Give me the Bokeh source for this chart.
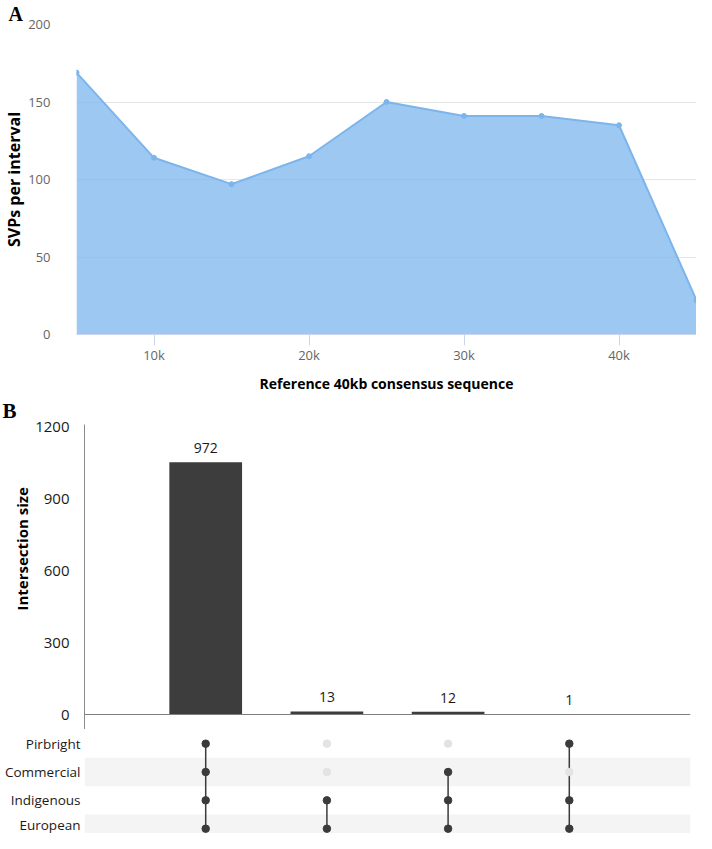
from bokeh.plotting import figure
from bokeh.models import Range1d, FixedTicker, ColumnDataSource, Span, Title
from bokeh.layouts import column
from bokeh.embed import file_html
from bokeh.resources import INLINE
from bokeh.core.properties import value

# ---------------- Panel A data ----------------
positions = [5000, 10000, 15000, 20000, 25000, 30000, 35000, 40000, 45000]
svps_per_interval = [169, 114, 97, 115, 150, 141, 141, 135, 22]
a_x_ticks = [10000, 20000, 30000, 40000]
a_x_tick_labels = ["10k", "20k", "30k", "40k"]
a_y_ticks = [0, 50, 100, 150, 200]

# ---------------- Panel B data ----------------
set_names = ["Pirbright", "Commercial", "Indigenous", "European"]   # top to bottom
intersection_labels = [972, 13, 12, 1]
bar_heights = [1055, 13, 12, 1]          # heights as drawn in the picture
intersection_index = [1, 2, 3, 4]
membership = [                            # per intersection, in set_names order
    [1, 1, 1, 1],
    [0, 0, 1, 1],
    [0, 1, 1, 1],
    [1, 0, 1, 1],
]
b_y_ticks = [0, 300, 600, 900, 1200]

FONT = "Open Sans"
W = 696

# ================= Panel A =================
pa = figure(width=W, height=395, output_backend="svg", toolbar_location=None,
            x_range=Range1d(5000, 45000), y_range=Range1d(0, 200),
            min_border_left=70, min_border_right=0, min_border_top=15, min_border_bottom=55)
pa.outline_line_color = None
pa.add_layout(Title(text="A", align="left", offset=-68, standoff=0,
                    text_font="Liberation Serif", text_font_style="bold",
                    text_font_size="20px", text_color="black"), "above")

src_a = ColumnDataSource(dict(x=positions, y=svps_per_interval))
pa.varea(x="x", y1=0, y2="y", source=src_a, fill_color="#7cb5ec", fill_alpha=0.75)
pa.line(x="x", y="y", source=src_a, line_color="#7cb5ec", line_width=2)
pa.scatter(x="x", y="y", source=src_a, size=5, fill_color="#7cb5ec", line_color="#7cb5ec")

pa.xgrid.grid_line_color = None
pa.ygrid.grid_line_color = "#e6e6e6"

pa.yaxis.ticker = FixedTicker(ticks=a_y_ticks)
pa.yaxis.axis_line_color = None
pa.yaxis.major_tick_line_color = None
pa.yaxis.major_tick_out = 0
pa.yaxis.major_tick_in = 0
pa.yaxis.minor_tick_line_color = None
pa.yaxis.major_label_standoff = 26
pa.yaxis.major_label_text_color = "#666666"
pa.yaxis.major_label_text_font = FONT
pa.yaxis.major_label_text_font_size = "13px"
pa.yaxis.axis_label = "SVPs per interval"
pa.yaxis.axis_label_text_font = FONT
pa.yaxis.axis_label_text_font_style = "bold"
pa.yaxis.axis_label_text_font_size = "16px"
pa.yaxis.axis_label_text_color = "black"
pa.yaxis.axis_label_standoff = 0

pa.xaxis.ticker = FixedTicker(ticks=a_x_ticks)
pa.xaxis.major_label_overrides = dict(zip(a_x_ticks, a_x_tick_labels))
pa.xaxis.axis_line_color = "#ccd6eb"
pa.xaxis.major_tick_line_color = "#ccd6eb"
pa.xaxis.major_tick_in = 0
pa.xaxis.major_tick_out = 11
pa.xaxis.minor_tick_line_color = None
pa.xaxis.major_label_standoff = 0
pa.xaxis.major_label_text_color = "#666666"
pa.xaxis.major_label_text_font = FONT
pa.xaxis.major_label_text_font_size = "13px"
pa.xaxis.axis_label = "Reference 40kb consensus sequence"
pa.xaxis.axis_label_text_font = FONT
pa.xaxis.axis_label_text_font_style = "bold"
pa.xaxis.axis_label_text_font_size = "14px"
pa.xaxis.axis_label_text_color = "black"
pa.xaxis.axis_label_standoff = 7

# ================= Panel B: bars =================
B_L, B_R = 84, 6
xr_b = Range1d(0, 5)
pb = figure(width=W, height=334, output_backend="svg", toolbar_location=None,
            x_range=xr_b, y_range=Range1d(-62.7, 1212.5), x_axis_location=None,
            min_border_left=B_L, min_border_right=B_R, min_border_top=29, min_border_bottom=0)
pb.outline_line_color = None
pb.xgrid.grid_line_color = None
pb.ygrid.grid_line_color = None
pb.add_layout(Title(text="B", align="left", offset=-82, standoff=0, vertical_align="top",
                    text_font="Liberation Serif", text_font_style="bold",
                    text_font_size="21px", text_color="black"), "above")

src_b = ColumnDataSource(dict(x=intersection_index, h=bar_heights,
                              lab=[str(v) for v in intersection_labels]))
pb.vbar(x="x", top="h", bottom=0, width=0.6, source=src_b,
        fill_color="#3d3d3d", line_color=None)
pb.text(x="x", y="h", text="lab", source=src_b, text_align="center",
        text_baseline="bottom", y_offset=-9, text_font=value(FONT),
        text_font_size="14px", text_color="#1a1a1a")
pb.add_layout(Span(location=0, dimension="width", line_color="#7f7f7f", line_width=1))

pb.yaxis.ticker = FixedTicker(ticks=b_y_ticks)
pb.yaxis.axis_line_color = "#8a8a8a"
pb.yaxis.major_tick_line_color = None
pb.yaxis.major_tick_out = 0
pb.yaxis.major_tick_in = 0
pb.yaxis.minor_tick_line_color = None
pb.yaxis.major_label_standoff = 15
pb.yaxis.major_label_text_color = "#1a1a1a"
pb.yaxis.major_label_text_font = FONT
pb.yaxis.major_label_text_font_size = "15px"
# left-side title, anchored at its start, 119px above the bottom of the frame
pb.add_layout(Title(text="Intersection size", align="left", offset=119, standoff=2,
                    text_font=FONT, text_font_style="bold", text_font_size="15px",
                    text_color="black"), "left")

# ================= Panel B: matrix =================
n_sets = len(set_names)
row_y = {name: n_sets - 1 - i for i, name in enumerate(set_names)}

pm = figure(width=W, height=104, output_backend="svg", toolbar_location=None,
            x_range=xr_b, y_range=Range1d(-0.17, 3.5), x_axis_location=None,
            min_border_left=B_L, min_border_right=B_R, min_border_top=0, min_border_bottom=0)
pm.outline_line_color = None
pm.xgrid.grid_line_color = None
pm.ygrid.grid_line_color = None

band_rows = [row_y[n] for i, n in enumerate(set_names) if i % 2 == 1]
pm.hbar(y=band_rows, left=xr_b.start, right=xr_b.end, height=1.0,
        fill_color="#f4f4f4", line_color=None)

dx, dy, dcol = [], [], []
seg_x, seg_y0, seg_y1 = [], [], []
for xi, mem in zip(intersection_index, membership):
    active = []
    for name, m in zip(set_names, mem):
        dx.append(xi)
        dy.append(row_y[name])
        dcol.append("#3b3b3b" if m else "#e3e3e3")
        if m:
            active.append(row_y[name])
    seg_x.append(xi)
    seg_y0.append(min(active))
    seg_y1.append(max(active))

pm.segment(x0=seg_x, y0=seg_y0, x1=seg_x, y1=seg_y1, line_color="#3b3b3b", line_width=1.5)
pm.scatter(x=dx, y=dy, size=7.5, fill_color=dcol, line_color=dcol)

pm.yaxis.ticker = FixedTicker(ticks=[row_y[n] for n in set_names])
pm.yaxis.major_label_overrides = {row_y[n]: n for n in set_names}
pm.yaxis.axis_line_color = None
pm.yaxis.major_tick_line_color = None
pm.yaxis.major_tick_out = 0
pm.yaxis.major_tick_in = 0
pm.yaxis.minor_tick_line_color = None
pm.yaxis.major_label_standoff = 4
pm.yaxis.major_label_text_color = "#1a1a1a"
pm.yaxis.major_label_text_font = FONT
pm.yaxis.major_label_text_font_size = "13.5px"

layout = column(column(pa), column(pb, pm, spacing=0), spacing=0)
open("out.html", "w").write(file_html(layout, INLINE))
